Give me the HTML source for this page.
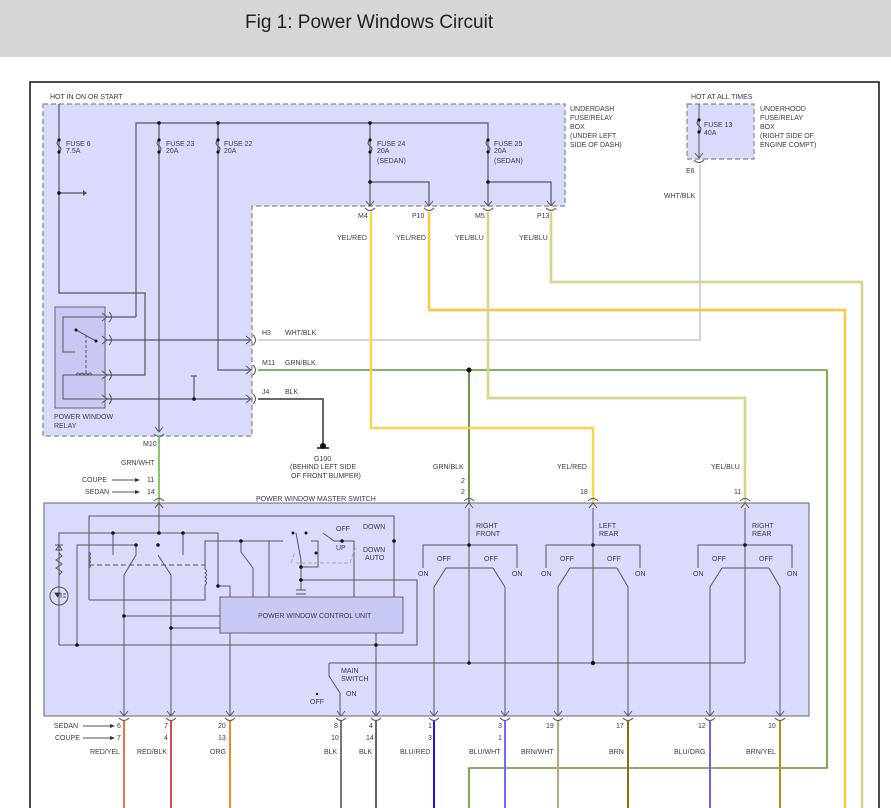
<!DOCTYPE html>
<html><head><meta charset="utf-8"><style>
html,body{margin:0;padding:0;background:#fff;width:891px;height:808px;overflow:hidden}
svg{display:block}
text{font-family:"Liberation Sans",sans-serif;font-size:7px;fill:#3a3a4a}
.t{font-size:19px;fill:#222}
</style></head><body>
<svg width="891" height="808" viewBox="0 0 891 808" xmlns="http://www.w3.org/2000/svg">
<defs>
<g id="dn"><path d="M-4,-5 L0,0 L4,-5" fill="none" stroke="#555" stroke-width="1"/><path d="M-5,2 Q0,7 5,2" fill="none" stroke="#555" stroke-width="1"/></g>
<g id="up"><path d="M-4,5 L0,0 L4,5" fill="none" stroke="#555" stroke-width="1"/><path d="M-5,-2 Q0,-7 5,-2" fill="none" stroke="#555" stroke-width="1"/></g>
<g id="rt"><path d="M-5,-4 L0,0 L-5,4" fill="none" stroke="#555" stroke-width="1"/><path d="M2,-5 Q7,0 2,5" fill="none" stroke="#555" stroke-width="1"/></g>
<g id="fuse"><path d="M0,0 Q-4,3 0,6 Q4,9 0,12" fill="none" stroke="#555" stroke-width="1"/><circle cx="0" cy="0" r="1.6" fill="#111"/><circle cx="0" cy="12" r="1.6" fill="#111"/></g>
</defs>
<rect x="0" y="0" width="891" height="57" fill="#d6d6d6"/>
<text x="245" y="28" class="t">Fig 1: Power Windows Circuit</text>
<path d="M30,808 V82 H879 V808" fill="none" stroke="#111" stroke-width="1.5"/>

<path d="M43,104 H565 V206 H252 V436 H43 Z" fill="#dadafc" stroke="#888" stroke-width="1.2" stroke-dasharray="5,3"/>
<text x="50" y="99">HOT IN ON OR START</text>
<text x="570" y="111">UNDERDASH</text><text x="570" y="120">FUSE/RELAY</text><text x="570" y="129">BOX</text><text x="570" y="138">(UNDER LEFT</text><text x="570" y="147">SIDE OF DASH)</text>
<path d="M687,104 H754 V159 H687 Z" fill="#dadafc" stroke="#888" stroke-width="1.2" stroke-dasharray="5,3"/>
<text x="691" y="99">HOT AT ALL TIMES</text>
<text x="760" y="111">UNDERHOOD</text><text x="760" y="120">FUSE/RELAY</text><text x="760" y="129">BOX</text><text x="760" y="138">(RIGHT SIDE OF</text><text x="760" y="147">ENGINE COMPT)</text>
<path d="M699,104 V158" stroke="#555" fill="none"/>
<use href="#fuse" x="699" y="120"/>
<text x="704" y="127">FUSE 13</text><text x="704" y="135">40A</text>
<use href="#dn" x="699" y="158"/>
<text x="686" y="173">E6</text>
<text x="664" y="198">WHT/BLK</text>

<g stroke="#555" fill="none" stroke-width="1.2">
<path d="M136,317 V123 H488 V206"/>
<path d="M59,104 V293 H145 V375 H106"/>
<path d="M59,193 H86"/>
<path d="M159,123 V432"/>
<path d="M218,123 V370 H250"/>
<path d="M136,317 H106"/>
<path d="M370,123 V206"/>
<path d="M370,182 H429 V206"/>
<path d="M488,182 H551 V206"/>
<path d="M106,340 H250"/>
<path d="M106,399 H250"/>
<path d="M194,376 V399"/>
<path d="M191,376 H197"/>
</g>
<path d="M83,190 L87,193 L83,196" fill="#555"/>
<g fill="#111"><circle cx="159" cy="123" r="1.8"/><circle cx="218" cy="123" r="1.8"/><circle cx="370" cy="123" r="1.8"/><circle cx="59" cy="193" r="1.8"/><circle cx="370" cy="182" r="1.8"/><circle cx="488" cy="182" r="1.8"/><circle cx="194" cy="399" r="1.8"/></g>
<use href="#fuse" x="59" y="140"/><use href="#fuse" x="159" y="140"/><use href="#fuse" x="218" y="140"/><use href="#fuse" x="370" y="140"/><use href="#fuse" x="488" y="140"/>
<text x="66" y="146">FUSE 6</text><text x="66" y="153">7.5A</text>
<text x="166" y="146">FUSE 23</text><text x="166" y="153">20A</text>
<text x="224" y="146">FUSE 22</text><text x="224" y="153">20A</text>
<text x="377" y="146">FUSE 24</text><text x="377" y="153">20A</text><text x="377" y="163">(SEDAN)</text>
<text x="494" y="146">FUSE 25</text><text x="494" y="153">20A</text><text x="494" y="163">(SEDAN)</text>

<rect x="55" y="307" width="50" height="101" fill="#c8c8f4" stroke="#666"/>
<g stroke="#555" fill="none" stroke-width="1">
<path d="M104,317 H63 V352 H75"/>
<path d="M76,330 L96,341"/>
<path d="M86,335 V375" stroke-dasharray="3,2"/>
<path d="M104,375 H63 V399 H104"/>
<path d="M76,375 q2,-4 4,0 q2,-4 4,0 q2,-4 4,0 q2,-4 4,0"/>
</g>
<circle cx="76" cy="330" r="1.5" fill="#111"/><circle cx="96" cy="341" r="1.5" fill="#111"/>
<use href="#rt" x="107" y="317"/><use href="#rt" x="107" y="340"/><use href="#rt" x="107" y="375"/><use href="#rt" x="107" y="399"/>
<text x="54" y="419">POWER WINDOW</text><text x="54" y="428">RELAY</text>

<use href="#dn" x="370" y="206"/><use href="#dn" x="429" y="206"/><use href="#dn" x="488" y="206"/><use href="#dn" x="551" y="206"/>
<text x="358" y="218">M4</text><text x="412" y="218">P10</text><text x="475" y="218">M5</text><text x="537" y="218">P13</text>
<text x="337" y="240">YEL/RED</text><text x="396" y="240">YEL/RED</text><text x="455" y="240">YEL/BLU</text><text x="519" y="240">YEL/BLU</text>
<use href="#rt" x="251" y="340"/><use href="#rt" x="251" y="370"/><use href="#rt" x="251" y="399"/>
<text x="262" y="335">H3</text><text x="285" y="335">WHT/BLK</text>
<text x="262" y="365">M11</text><text x="285" y="365">GRN/BLK</text>
<text x="262" y="394">J4</text><text x="285" y="394">BLK</text>
<use href="#dn" x="159" y="432"/>
<text x="143" y="446">M10</text>

<g fill="none">
<path d="M700,165 V340 H258" stroke="#d4d4d4" stroke-width="2"/>
<path d="M258,370 H827 V768 H469 V808" stroke="#5a9a30" stroke-width="1.6"/>
<path d="M469,370 V503" stroke="#6a9a50" stroke-width="2"/>
<path d="M258,399 H323 V444" stroke="#666" stroke-width="2"/>
<path d="M159,436 V503" stroke="#60c040" stroke-width="1.6"/>
<path d="M371,212 V428 H593 V503" stroke="#fcc0a0" stroke-width="2.4"/>
<path d="M371,212 V428 H593 V503" stroke="#ffe400" stroke-width="1.3"/>
<path d="M429,212 V310 H845 V808" stroke="#f8a080" stroke-width="2.4"/>
<path d="M429,212 V310 H845 V808" stroke="#ffe400" stroke-width="1.3"/>
<path d="M488,212 V398 H745 V503" stroke="#b0b0f0" stroke-width="2.4"/>
<path d="M488,212 V398 H745 V503" stroke="#ffee20" stroke-width="1.2"/>
<path d="M551,212 V282 H862 V808" stroke="#b0b0f0" stroke-width="2.4"/>
<path d="M551,212 V282 H862 V808" stroke="#ffee20" stroke-width="1.2"/>
</g>
<circle cx="469" cy="370" r="2.5" fill="#111"/>
<circle cx="323" cy="446" r="3" fill="#111"/><path d="M317,448 H329" stroke="#111" stroke-width="1.5"/>
<text x="314" y="461">G100</text><text x="290" y="469">(BEHIND LEFT SIDE</text><text x="291" y="478">OF FRONT BUMPER)</text>

<text x="121" y="465">GRN/WHT</text>
<text x="82" y="482">COUPE</text><text x="85" y="494">SEDAN</text>
<path d="M112,480 H138 M112,492 H138" stroke="#555"/><path d="M135,478 L140,480 L135,482 Z M135,490 L140,492 L135,494 Z" fill="#333"/>
<text x="147" y="482">11</text><text x="147" y="494">14</text>
<text x="433" y="469">GRN/BLK</text><text x="461" y="483">2</text><text x="461" y="494">2</text>
<text x="557" y="469">YEL/RED</text><text x="580" y="494">18</text>
<text x="711" y="469">YEL/BLU</text><text x="734" y="494">11</text>

<text x="256" y="501">POWER WINDOW MASTER SWITCH</text>
<rect x="44" y="503" width="765" height="213" fill="#dadafc" stroke="#666"/>
<use href="#up" x="159" y="503"/><use href="#up" x="469" y="503"/><use href="#up" x="593" y="503"/><use href="#up" x="745" y="503"/>
<rect x="220" y="597" width="183" height="36" fill="#c8c8f4" stroke="#666"/>
<text x="258" y="618">POWER WINDOW CONTROL UNIT</text>
<g stroke="#555" fill="none" stroke-width="1">
<path d="M159,503 V533"/>
<path d="M89,600 V516 H394 V597"/>
<path d="M59,645 V533 H218 V586 H230 V597"/>
<path d="M59,645 H417 V580 H299"/>
<path d="M77,645 V545 H136"/>
<path d="M89,548 v4 q3,2 0,4 q3,2 0,4 q3,2 0,4 q3,2 0,4 v10"/>
<path d="M89,600 H205 V585 q3,-2 0,-4 q3,-2 0,-4 q3,-2 0,-4 q3,-2 0,-4 V541 H283 H256"/>
<path d="M89,565 H205" stroke-dasharray="5,3"/>
<path d="M136,545 V555 L124,575 V715"/>
<path d="M113,533 V555"/>
<path d="M183,533 V555"/>
<path d="M158,555 L171,575 V715"/>
<path d="M124,616 H220"/>
<path d="M171,628 H220"/>
<path d="M241,541 V552 L253,568 V597"/>
<path d="M230,633 V715"/>
<path d="M269,541 V597"/>
<path d="M296,533 L301,560 V580"/>
<path d="M301,567 H318 V541 H311"/>
<path d="M323,533 L334,541 H354 V597"/>
<path d="M301,580 V590 M296,590 H306 M296,594 H306"/>
<path d="M291,563 L295,552 M296,563 H350 L356,546" stroke="#aaa" stroke-dasharray="4,2"/>
<path d="M376,633 V715"/>
<path d="M329,663 H745"/>
<path d="M329,663 V676 L340,693 V715"/>
<path d="M469,508 V663"/><path d="M423,568 V545 H517 V568"/><path d="M446,568 H493"/>
<path d="M446,568 L434,587 V715"/><path d="M493,568 L505,587 V715"/>
<path d="M593,508 V663"/><path d="M546,568 V545 H640 V568"/><path d="M570,568 H617"/>
<path d="M570,568 L558,587 V715"/><path d="M617,568 L628,587 V715"/>
<path d="M745,508 V663"/><path d="M698,568 V545 H792 V568"/><path d="M722,568 H769"/>
<path d="M722,568 L710,587 V715"/><path d="M769,568 L780,587 V715"/>
<path d="M59,545 l-3,5 h6 z M55,545 h8"/>
<path d="M59,553 l3,3 l-6,4 l6,4 l-6,4 l6,4 l-3,3"/>
</g>
<circle cx="59" cy="596" r="9" fill="none" stroke="#555"/>
<path d="M55,593 h5 l-2.5,4 z M61,593 v5 M63,594 h3 M63,597 h3" stroke="#333" fill="#333" stroke-width="0.8"/>
<g fill="#111">
<circle cx="159" cy="533" r="1.8"/><circle cx="113" cy="533" r="1.8"/><circle cx="183" cy="533" r="1.8"/><circle cx="136" cy="545" r="1.8"/><circle cx="158" cy="545" r="1.8"/><circle cx="124" cy="616" r="1.8"/><circle cx="171" cy="628" r="1.8"/><circle cx="77" cy="645" r="1.8"/><circle cx="376" cy="645" r="1.8"/><circle cx="241" cy="541" r="1.8"/><circle cx="301" cy="580" r="1.8"/><circle cx="301" cy="567" r="1.8"/><circle cx="218" cy="586" r="1.8"/><circle cx="394" cy="541" r="1.8"/><circle cx="342" cy="541" r="1.8"/><circle cx="293" cy="533" r="1.5"/><circle cx="306" cy="533" r="1.5"/><circle cx="316" cy="553" r="1.5"/>
<circle cx="469" cy="545" r="1.8"/><circle cx="593" cy="545" r="1.8"/><circle cx="745" cy="545" r="1.8"/>
<circle cx="469" cy="663" r="1.8"/><circle cx="593" cy="663" r="2.2"/><circle cx="317" cy="694" r="1.2"/>
</g>
<text x="336" y="531">OFF</text><text x="363" y="529">DOWN</text><text x="336" y="550">UP</text><text x="363" y="552">DOWN</text><text x="365" y="560">AUTO</text>
<text x="341" y="673">MAIN</text><text x="341" y="681">SWITCH</text><text x="346" y="696">ON</text><text x="310" y="704">OFF</text>
<text x="476" y="528">RIGHT</text><text x="476" y="536">FRONT</text>
<text x="599" y="528">LEFT</text><text x="599" y="536">REAR</text>
<text x="752" y="528">RIGHT</text><text x="752" y="536">REAR</text>
<g><text x="437" y="561">OFF</text><text x="484" y="561">OFF</text><text x="418" y="576">ON</text><text x="512" y="576">ON</text>
<text x="560" y="561">OFF</text><text x="607" y="561">OFF</text><text x="541" y="576">ON</text><text x="635" y="576">ON</text>
<text x="712" y="561">OFF</text><text x="759" y="561">OFF</text><text x="693" y="576">ON</text><text x="787" y="576">ON</text></g>

<g>
<use href="#dn" x="124" y="716"/><use href="#dn" x="171" y="716"/><use href="#dn" x="230" y="716"/><use href="#dn" x="341" y="716"/><use href="#dn" x="376" y="716"/><use href="#dn" x="434" y="716"/><use href="#dn" x="505" y="716"/><use href="#dn" x="558" y="716"/><use href="#dn" x="628" y="716"/><use href="#dn" x="710" y="716"/><use href="#dn" x="780" y="716"/>
</g>
<g fill="none" stroke-width="2">
<path d="M124,721 V808" stroke="#f07048"/><path d="M171,721 V808" stroke="#e04850"/><path d="M230,721 V808" stroke="#f08a20"/>
<path d="M341,721 V808" stroke="#777"/><path d="M376,721 V808" stroke="#666"/><path d="M434,721 V808" stroke="#1818ff"/>
<path d="M505,721 V808" stroke="#6a6aff"/><path d="M558,721 V808" stroke="#b8a880"/><path d="M628,721 V808" stroke="#8b6b10"/>
<path d="M710,721 V808" stroke="#8060d0"/><path d="M780,721 V808" stroke="#b09020"/>
</g>
<text x="54" y="728">SEDAN</text><text x="55" y="740">COUPE</text>
<path d="M83,726 H112 M83,738 H112" stroke="#555"/><path d="M110,724 L115,726 L110,728 Z M110,736 L115,738 L110,740 Z" fill="#333"/>
<text x="117" y="728">6</text><text x="117" y="740">7</text>
<text x="164" y="728">7</text><text x="164" y="740">4</text>
<text x="218" y="728">20</text><text x="218" y="740">13</text>
<text x="334" y="728">8</text><text x="331" y="740">10</text>
<text x="369" y="728">4</text><text x="366" y="740">14</text>
<text x="428" y="728">1</text><text x="428" y="740">3</text>
<text x="498" y="728">3</text><text x="498" y="740">1</text>
<text x="546" y="728">19</text><text x="616" y="728">17</text><text x="698" y="728">12</text><text x="768" y="728">10</text>
<text x="90" y="754">RED/YEL</text><text x="137" y="754">RED/BLK</text><text x="210" y="754">ORG</text>
<text x="324" y="754">BLK</text><text x="359" y="754">BLK</text><text x="400" y="754">BLU/RED</text>
<text x="469" y="754">BLU/WHT</text><text x="521" y="754">BRN/WHT</text><text x="609" y="754">BRN</text>
<text x="674" y="754">BLU/ORG</text><text x="746" y="754">BRN/YEL</text>
</svg>
</body></html>
